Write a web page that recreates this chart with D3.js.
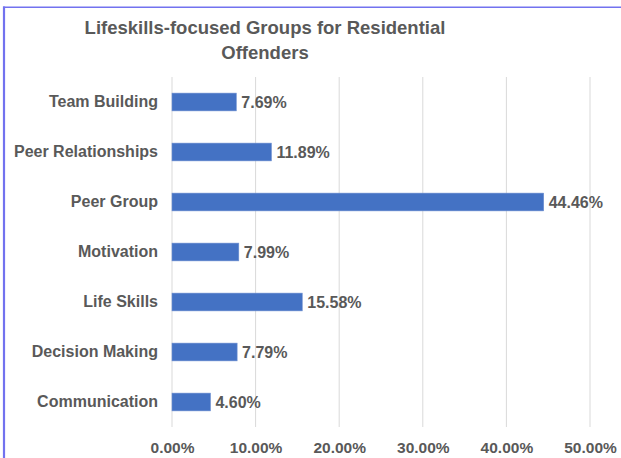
<!DOCTYPE html>
<html><head><meta charset="utf-8">
<script src="https://cdn.jsdelivr.net/npm/d3@7/dist/d3.min.js"></script>
<style>
html,body{margin:0;padding:0;background:#fff;}
svg{display:block;}
text{font-family:"Liberation Sans",Arial,sans-serif;font-weight:bold;fill:#595959;}
</style></head>
<body>
<svg id="chart" width="621" height="458"></svg>
<script>
const categories = ["Team Building","Peer Relationships","Peer Group","Motivation","Life Skills","Decision Making","Communication"];
const values = [7.69, 11.89, 44.46, 7.99, 15.58, 7.79, 4.60];
const tickValues = [0, 10, 20, 30, 40, 50];
const titleLines = ["Lifeskills-focused Groups for Residential", "Offenders"];

const svg = d3.select("#chart");
const W = 621, H = 458;
const plot = {left: 172, right: 590, top: 77, bottom: 427};

// border (top and left only)
svg.append("line").attr("x1",3).attr("x2",W).attr("y1",7.2).attr("y2",7.2)
  .attr("stroke","#7272ef").attr("stroke-width",1.6);
svg.append("line").attr("x1",4).attr("x2",4).attr("y1",6.5).attr("y2",H)
  .attr("stroke","#7272ef").attr("stroke-width",2.2);

const x = d3.scaleLinear().domain([0,50]).range([plot.left, plot.right]);
const y = d3.scaleBand().domain(categories).range([plot.top, plot.bottom]).paddingInner(0.645).paddingOuter(0.3225);

// title
svg.append("g").selectAll("text").data(titleLines).join("text")
  .attr("x",265).attr("y",(d,i)=>34 + i*25)
  .attr("text-anchor","middle").style("font-size","18.5px").text(d=>d);

// gridlines
svg.append("g").selectAll("line").data(tickValues).join("line")
  .attr("x1",d=>x(d)).attr("x2",d=>x(d))
  .attr("y1",plot.top).attr("y2",plot.bottom)
  .attr("stroke","#d9d9d9").attr("stroke-width",1);

// x axis labels
const xAxis = d3.axisBottom(x).tickValues(tickValues).tickSize(0).tickPadding(0)
  .tickFormat(d=>d.toFixed(2)+"%");
const gx = svg.append("g").attr("transform",`translate(0,${plot.bottom+15})`).call(xAxis);
gx.select(".domain").remove();
gx.selectAll("text").style("font-size","15.5px").style("font-family",null).attr("fill","#595959");

// y axis labels
const yAxis = d3.axisLeft(y).tickSize(0).tickPadding(14);
const gy = svg.append("g").attr("transform",`translate(${plot.left},0)`).call(yAxis);
gy.select(".domain").remove();
gy.selectAll("text").style("font-size","16px").style("font-family",null).attr("fill","#595959");

// bars
const data = categories.map((c,i)=>({c, v: values[i]}));
svg.append("g").selectAll("rect").data(data).join("rect")
  .attr("x",x(0)).attr("y",d=>y(d.c))
  .attr("width",d=>x(d.v)-x(0)).attr("height",y.bandwidth())
  .attr("fill","#4472c4").attr("stroke","#6d8fd0").attr("stroke-width",0.6);

// value labels
svg.append("g").selectAll("text").data(data).join("text")
  .attr("x",d=>x(d.v)+5).attr("y",d=>y(d.c)+y.bandwidth()/2)
  .attr("dy","0.35em").style("font-size","16px")
  .text(d=>d.v.toFixed(2)+"%");
</script>
</body></html>
